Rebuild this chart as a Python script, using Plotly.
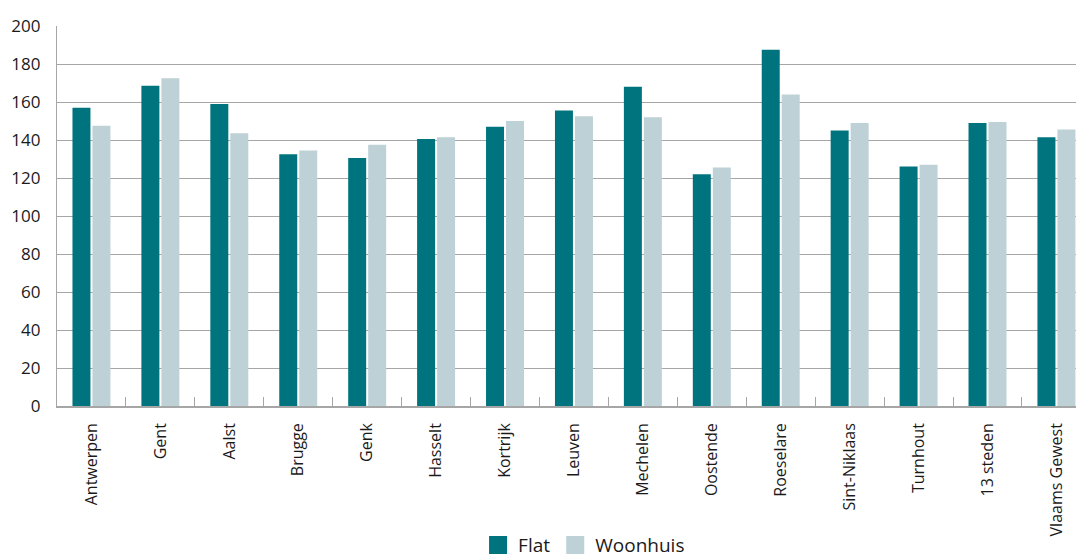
import plotly.graph_objects as go

categories = ["Antwerpen", "Gent", "Aalst", "Brugge", "Genk", "Hasselt", "Kortrijk",
              "Leuven", "Mechelen", "Oostende", "Roeselare", "Sint-Niklaas", "Turnhout",
              "13 steden", "Vlaams Gewest"]
flat = [157, 168.5, 159, 132.5, 130.5, 140.5, 147, 155.5, 168, 122, 187.5, 145, 126, 149, 141.5]
woonhuis = [147.5, 172.5, 143.5, 134.5, 137.5, 141.5, 150, 152.5, 152, 125.5, 164, 149, 127, 149.5, 145.5]
y_ticks = [0, 20, 40, 60, 80, 100, 120, 140, 160, 180, 200]

FLAT_C = "#00747E"
WOON_C = "#BED1D6"
FONT = "Open Sans"

fig = go.Figure()
fig.add_trace(go.Bar(name="Flat", x=categories, y=flat, marker_color=FLAT_C,
                     marker_line_width=0, showlegend=False))
fig.add_trace(go.Bar(name="Woonhuis", x=categories, y=woonhuis, marker_color=WOON_C,
                     marker_line_width=0, showlegend=False))
# legend entries with larger square swatches
for name, col in [("Flat", FLAT_C), ("Woonhuis", WOON_C)]:
    fig.add_trace(go.Scatter(name=name, x=[None], y=[None], mode="markers",
                             marker=dict(symbol="square", size=16, color=col,
                                         line=dict(color=col, width=2)),
                             showlegend=True))

# page body has an 8px margin, so the figure is sized/offset to compensate
fig.update_layout(
    width=1076, height=550,
    margin=dict(l=49, r=0, t=18, b=152, autoexpand=False),
    paper_bgcolor="white", plot_bgcolor="white",
    barmode="group", bargap=0.42, bargroupgap=0.1,
    font=dict(family=FONT, size=16, color="#1a1a1a"),
    showlegend=True,
    legend=dict(orientation="h", x=0.41, xanchor="left", y=-0.416, yanchor="bottom",
                font=dict(size=19), itemsizing="trace", traceorder="normal",
                itemwidth=30, bgcolor="rgba(0,0,0,0)"),
)
fig.update_xaxes(
    range=[-0.5, 14.4], tickson="boundaries", ticks="inside", ticklen=9, tickwidth=1.3,
    tickcolor="#a6a6a6", showline=True, linecolor="#a6a6a6", linewidth=1.5,
    tickangle=-90, tickfont=dict(size=16), ticklabelstandoff=9, showgrid=False,
    automargin=False,
)
fig.update_yaxes(
    range=[0, 200], tickvals=y_ticks, showgrid=True, gridcolor="#a6a6a6", gridwidth=1.3,
    showline=True, linecolor="#a6a6a6", linewidth=1.3, zeroline=False,
    tickfont=dict(size=17), ticks="", ticklabelstandoff=12, automargin=False,
)
fig.write_html("out.html")
